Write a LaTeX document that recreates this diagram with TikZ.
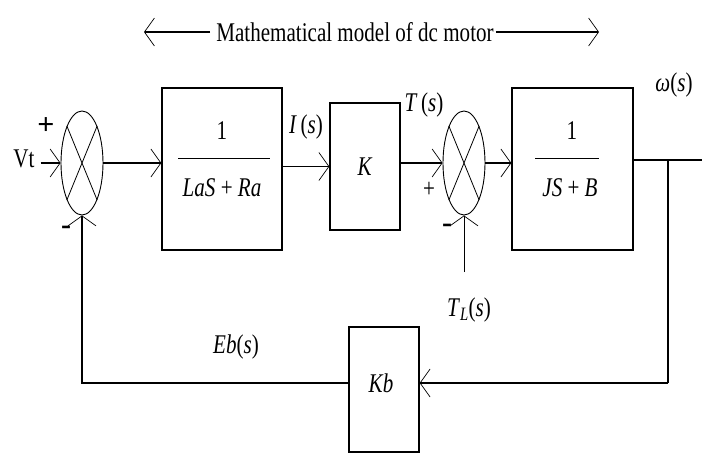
\documentclass[tikz,border=0pt]{standalone}
\usepackage{fontspec}
\setmainfont{Liberation Serif}
\usetikzlibrary{shapes.geometric,arrows.meta}
\newcommand{\sq}[1]{\scalebox{0.78}[1]{#1}}
\begin{document}
\begin{tikzpicture}[x=1pt,y=-1pt,
  every node/.style={font=\fontsize{27}{30}\selectfont, inner sep=0pt},
  blk/.style={draw, line width=1.3pt, minimum width=#1},
  sumnode/.style={draw, ellipse, line width=0.9pt, minimum width=42pt, minimum height=104pt},
  arr/.style={line width=1.2pt, -{Straight Barb[length=10pt,width=28pt,line width=0.7pt]}},
  ln/.style={line width=1.2pt}]
\useasboundingbox (0,0) rectangle (702,453);
% title
\node (title) at (355,32) {\sq{Mathematical model of dc motor}};
\coordinate (tl1) at (144,32);
\coordinate (tr1) at (599,32);
\draw[arr] (title.west) ++(-6,0) -- (tl1);
\draw[arr] (title.east) ++(2,0) -- (tr1);
% blocks
\node[sumnode] (s1) at (82,163) {};
\node[blk=120pt, minimum height=162pt] (b1) at (222,169) {};
\node at (222,131) {\sq{1}};
\draw[line width=1pt] (178,158) -- (270,158);
\node at (222,188) {\sq{\textit{LaS} + \textit{Ra}}};
\node[blk=70pt, minimum height=127pt] (k) at (365,166.5) {\sq{\textit{K}}};
\node[sumnode] (s2) at (464,163) {};
\node[blk=121pt, minimum height=162pt] (b3) at (572.5,169) {};
\node at (572,131) {\sq{1}};
\draw[line width=1pt] (535,158) -- (599,158);
\node at (570,188) {\sq{\textit{JS} + \textit{B}}};
\node[blk=70pt, minimum height=125pt] (kb) at (384,389.5) {};
\node at (381,383) {\sq{\textit{Kb}}};
% crosses
\foreach \s in {s1,s2}{
  \draw[line width=0.8pt] (\s.north west) -- (\s.south east);
  \draw[line width=0.8pt] (\s.north east) -- (\s.south west);
}
% labels
\node (vt) at (24,159) {\sq{Vt}};
\node at (46,126) {\fontsize{30}{30}\selectfont\bfseries +};
\node at (66,230) {\fontsize{30}{30}\selectfont\bfseries -};
\node at (429,190) {\sq{+}};
\node at (447,228) {\fontsize{30}{30}\selectfont\bfseries -};
\node at (306,127) {\sq{\textit{I}\,(\textit{s})}};
\node at (424,105) {\sq{\textit{T}\,(\textit{s})}};
\node at (674,85) {\sq{\textit{ω}(\textit{s})}};
\node at (236,347) {\sq{\textit{Eb}(\textit{s})}};
\node at (469,310) {\sq{\textit{T}\textsubscript{\textit{L}}(\textit{s})}};
% connectors
\draw[arr] (vt.east) ++(6,4) -- (s1.west);
\draw[arr] (s1.east) -- (s1.east -| b1.west);
\draw[arr] (b1.east |- k.west) -- (k.west);
\draw[arr] (k.east |- s2.west) -- (s2.west);
\draw[arr] (s2.east) -- (s2.east -| b3.west);
\coordinate (out) at (702,160);
\coordinate (br) at (668,160);
\coordinate (fb) at (668,383);
\draw[ln] (b3.east |- out) -- (out);
\draw[ln] (br) -- (fb);
\draw[arr] (fb) -- (fb -| kb.east);
\draw[arr] (kb.west |- fb) -| (s1.south);
\coordinate (tlin) at (464,272);
\draw[arr, line width=0.8pt] (tlin) -- (s2.south);
\end{tikzpicture}
\end{document}
